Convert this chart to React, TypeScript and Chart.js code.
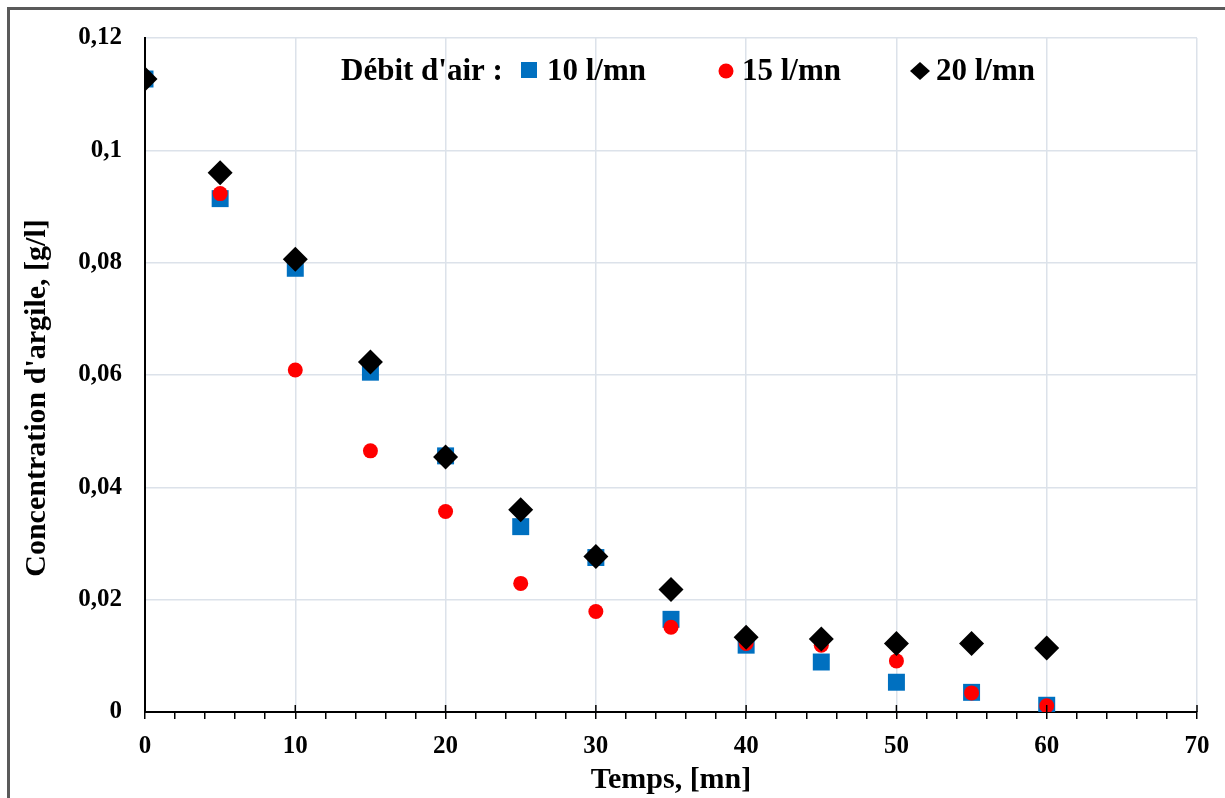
import React, { useEffect, useRef } from "react";
import { Chart, registerables } from "chart.js";

Chart.register(...registerables);

const timeMin = [0, 5, 10, 15, 20, 25, 30, 35, 40, 45, 50, 55, 60];
const debit10 = [0.1127, 0.0914, 0.079, 0.0605, 0.0456, 0.033, 0.0275, 0.0165, 0.0119, 0.0089, 0.0053, 0.0035, 0.0012];
const debit15 = [0.1127, 0.0923, 0.0609, 0.0465, 0.0357, 0.0229, 0.0179, 0.0151, 0.0122, 0.0119, 0.0091, 0.0034, 0.0011];
const debit20 = [0.1127, 0.096, 0.0806, 0.0623, 0.0454, 0.036, 0.0277, 0.0218, 0.0133, 0.013, 0.0122, 0.0122, 0.0114];
const seriesLabels = ["10 l/mn", "15 l/mn", "20 l/mn"];
const legendTitle = "Débit d'air :";
const xTitle = "Temps, [mn]";
const yTitle = "Concentration d'argile, [g/l]";

const FONT = "'Liberation Serif', 'Times New Roman', serif";
const GRID = "#dce2ea";

export default function App() {
  const ref = useRef<HTMLCanvasElement | null>(null);

  useEffect(() => {
    if (!ref.current) return;
    const toPts = (arr: number[]) => arr.map((y, i) => ({ x: timeMin[i], y }));

    const extras = {
      id: "extras",
      beforeDraw(chart: any) {
        const ctx = chart.ctx;
        ctx.save();
        ctx.fillStyle = "#fff";
        ctx.fillRect(0, 0, chart.width, chart.height);
        ctx.restore();
      },
      afterDraw(chart: any) {
        const ctx = chart.ctx;
        const xs = chart.scales.x;
        const yBottom = chart.chartArea.bottom;
        ctx.save();
        // outer frame (left and top edges)
        ctx.strokeStyle = "#5a5a5a";
        ctx.lineWidth = 3;
        ctx.beginPath();
        ctx.moveTo(8.5, chart.height + 5);
        ctx.lineTo(8.5, 8.5);
        ctx.lineTo(chart.width + 5, 8.5);
        ctx.stroke();
        // major ticks crossing above axis
        ctx.strokeStyle = "#000";
        ctx.lineWidth = 1.5;
        for (let v = 0; v <= 70; v += 10) {
          const px = xs.getPixelForValue(v);
          ctx.beginPath();
          ctx.moveTo(px, yBottom - 7);
          ctx.lineTo(px, yBottom);
          ctx.stroke();
        }
        // y axis title
        ctx.save();
        ctx.translate(37, 398);
        ctx.rotate(-Math.PI / 2);
        ctx.fillStyle = "#000";
        ctx.font = `bold 30px ${FONT}`;
        ctx.textAlign = "center";
        ctx.textBaseline = "middle";
        ctx.fillText(yTitle, 0, 0);
        ctx.restore();
        // legend
        ctx.fillStyle = "#000";
        ctx.font = `bold 31px ${FONT}`;
        ctx.textBaseline = "alphabetic";
        ctx.textAlign = "left";
        const base = 80;
        ctx.fillText(legendTitle, 341, base);
        ctx.fillStyle = "#0070C0";
        ctx.fillRect(521, 62, 16, 16);
        ctx.fillStyle = "#000";
        ctx.fillText(seriesLabels[0], 547, base);
        ctx.fillStyle = "#FF0000";
        ctx.beginPath();
        ctx.arc(726, 71, 7.5, 0, Math.PI * 2);
        ctx.fill();
        ctx.fillStyle = "#000";
        ctx.fillText(seriesLabels[1], 742, base);
        ctx.beginPath();
        ctx.moveTo(920, 62);
        ctx.lineTo(930, 71);
        ctx.lineTo(920, 80);
        ctx.lineTo(910, 71);
        ctx.closePath();
        ctx.fill();
        ctx.fillText(seriesLabels[2], 936, base);
        ctx.restore();
      },
    };

    const chart = new Chart(ref.current, {
      type: "scatter",
      data: {
        datasets: [
          {
            label: seriesLabels[0],
            data: toPts(debit10),
            pointStyle: "rect",
            pointRadius: 12,
            backgroundColor: "#0070C0",
            borderColor: "#0070C0",
            borderWidth: 0,
            order: 2,
          },
          {
            label: seriesLabels[1],
            data: toPts(debit15),
            pointStyle: "circle",
            pointRadius: 7.5,
            backgroundColor: "#FF0000",
            borderColor: "#FF0000",
            borderWidth: 0,
            order: 1,
          },
          {
            label: seriesLabels[2],
            data: toPts(debit20),
            pointStyle: "rectRot",
            pointRadius: 12.5,
            backgroundColor: "#000000",
            borderColor: "#000000",
            borderWidth: 0,
            order: 0,
          },
        ],
      },
      options: {
        responsive: false,
        animation: false,
        layout: { padding: { left: 16, right: 28, top: 36, bottom: 0 } },
        plugins: { legend: { display: false }, tooltip: { enabled: false } },
        scales: {
          x: {
            type: "linear",
            min: 0,
            max: 70,
            afterFit: (s: any) => {
              s.height = 86;
            },
            ticks: {
              stepSize: 2,
              autoSkip: false,
              maxRotation: 0,
              padding: 13,
              color: "#000",
              font: { family: FONT, size: 25, weight: "bold" },
              callback: (v: any) => (Math.round(v) % 10 === 0 ? String(Math.round(v)) : ""),
            },
            grid: {
              color: (c: any) => (c.tick && Math.round(c.tick.value) % 10 === 0 ? GRID : "rgba(0,0,0,0)"),
              lineWidth: 1.5,
              tickColor: "#000",
              tickLength: 7,
              tickWidth: 1.5,
            },
            border: { color: "#000", width: 2 },
            title: {
              display: true,
              text: xTitle,
              color: "#000",
              font: { family: FONT, size: 30, weight: "bold" },
              padding: { top: 0, bottom: 0 },
            },
          },
          y: {
            type: "linear",
            min: 0,
            max: 0.12,
            afterFit: (s: any) => {
              s.width = 129;
            },
            ticks: {
              stepSize: 0.02,
              padding: 23,
              color: "#000",
              font: { family: FONT, size: 25, weight: "bold" },
              callback: (v: any) => {
                const n = Number(v);
                if (Math.abs(n) < 1e-9) return "0";
                return n.toFixed(2).replace(/0$/, "").replace(".", ",");
              },
            },
            grid: { color: GRID, lineWidth: 1.5, drawTicks: false },
            border: { color: "#000", width: 2 },
            title: { display: false, text: yTitle },
          },
        },
      },
      plugins: [extras],
    });
    return () => chart.destroy();
  }, []);

  return (
    <canvas
      ref={ref}
      width={1225}
      height={798}
      style={{ position: "fixed", left: 0, top: 0, width: 1225, height: 798 }}
    />
  );
}
